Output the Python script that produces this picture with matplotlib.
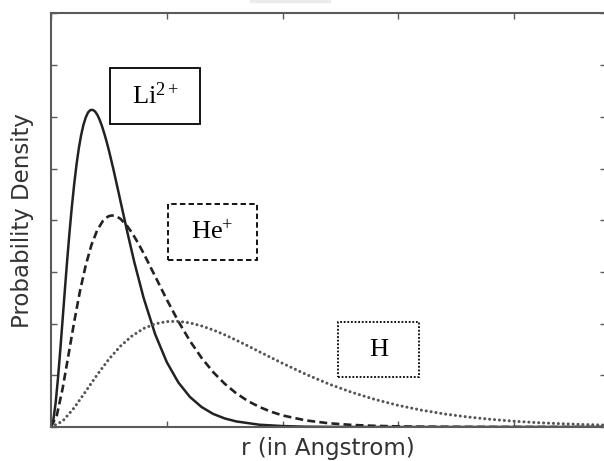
#!/usr/bin/env python3
"""Radial probability density of the 1s orbital for H, He+ and Li2+."""

import matplotlib

matplotlib.use("Agg")
import matplotlib.pyplot as plt
from matplotlib.patches import Rectangle

plt.rcParams["mathtext.fontset"] = "custom"
plt.rcParams["mathtext.rm"] = "Liberation Serif"
plt.rcParams["mathtext.it"] = "Liberation Serif:italic"

# values (r in Angstrom, density per Angstrom)
R_H = [0.0, 0.05, 0.10, 0.15, 0.20, 0.25, 0.30, 0.35, 0.40, 0.45, 0.50,
       0.55, 0.60, 0.65, 0.70, 0.75, 0.80, 0.85, 0.90, 0.95, 1.00, 1.10,
       1.20, 1.30, 1.40, 1.50, 1.60, 1.70, 1.80, 1.90, 2.00, 2.10, 2.20,
       2.30, 2.40]
P_H = [0.0, 0.056, 0.185, 0.345, 0.507, 0.656, 0.782, 0.881, 0.953, 0.998,
       1.020, 1.022, 1.007, 0.978, 0.939, 0.892, 0.840, 0.785, 0.728, 0.672,
       0.616, 0.511, 0.416, 0.335, 0.266, 0.209, 0.163, 0.126, 0.097, 0.074,
       0.056, 0.042, 0.032, 0.024, 0.018]

R_HE = [0.0, 0.025, 0.05, 0.075, 0.10, 0.125, 0.15, 0.175, 0.20, 0.225,
        0.2375, 0.25, 0.2625, 0.275, 0.2875, 0.30, 0.325, 0.35, 0.375, 0.40,
        0.45, 0.50, 0.55, 0.60, 0.65, 0.70, 0.75, 0.80, 0.85, 0.90, 0.95,
        1.00, 1.10, 1.20, 1.30, 1.40, 1.50, 1.60, 1.70, 1.80, 2.00, 2.40]
P_HE = [0.0, 0.112, 0.370, 0.690, 1.015, 1.313, 1.564, 1.763, 1.906, 1.996,
        2.023, 2.040, 2.046, 2.044, 2.031, 2.014, 1.956, 1.878, 1.784, 1.680,
        1.457, 1.233, 1.022, 0.833, 0.670, 0.532, 0.419, 0.326, 0.252, 0.194,
        0.148, 0.112, 0.064, 0.036, 0.020, 0.011, 0.006, 0.003, 0.002, 0.001,
        0.0, 0.0]

R_LI = [0.0, 0.01, 0.02, 0.03, 0.04, 0.05, 0.06, 0.07, 0.08, 0.09, 0.10,
        0.11, 0.12, 0.13, 0.14, 0.15, 0.16, 0.17, 0.18, 0.19, 0.20, 0.21,
        0.22, 0.23, 0.24, 0.25, 0.26, 0.27, 0.28, 0.29, 0.30, 0.33, 0.36,
        0.40, 0.45, 0.50, 0.55, 0.60, 0.65, 0.70, 0.75, 0.80, 0.90, 1.00,
        1.10, 1.20, 1.40, 1.60, 2.40]
P_LI = [0.0, 0.065, 0.233, 0.467, 0.742, 1.034, 1.330, 1.616, 1.885, 2.129,
        2.346, 2.535, 2.694, 2.822, 2.922, 2.994, 3.043, 3.066, 3.068, 3.053,
        3.021, 2.972, 2.912, 2.840, 2.762, 2.676, 2.583, 2.488, 2.388, 2.287,
        2.185, 1.882, 1.593, 1.249, 0.897, 0.628, 0.431, 0.291, 0.194, 0.127,
        0.083, 0.054, 0.022, 0.009, 0.003, 0.001, 0.0, 0.0, 0.0]

# label boxes: (text, x0, x1, y0, y1, border style) in data units
LABELS = [
    (r"Li$^{\mathrm{2+}}$", 0.255, 0.644, 2.930, 3.472, "-"),
    (r"He$^{\mathrm{+}}$", 0.505, 0.890, 1.615, 2.157, (0, (3, 1.8))),
    ("H", 1.240, 1.590, 0.484, 1.015, (0, (1, 1))),
]

INK = "#222222"
AXC = "#5a5a5a"

fig = plt.figure(figsize=(6.04, 4.61), dpi=100)
ax = fig.add_axes([51 / 604, 34 / 461, 554.5 / 604, 413.5 / 461])

ax.plot(R_LI, P_LI, color=INK, lw=1.8, ls="-")
ax.plot(R_HE, P_HE, color=INK, lw=1.9, ls=(0, (3.0, 1.6)))
ax.plot(R_H, P_H, color="#555555", lw=2.2, ls=(0, (0.01, 1.6)),
        dash_capstyle="round")

for txt, x0, x1, y0, y1, style in LABELS:
    ax.add_patch(Rectangle((x0, y0), x1 - x0, y1 - y0, fill=False,
                           ec="black", lw=1.3, ls=style))
    ax.text((x0 + x1) / 2, (y0 + y1) / 2, txt, ha="center", va="center",
            family="Liberation Serif", fontsize=19, color="black")

ax.set_xlim(0, 2.395)
ax.set_ylim(0, 4.0)
ax.set_xticks([0, 0.5, 1.0, 1.5, 2.0])
ax.set_yticks([0, 0.5, 1.0, 1.5, 2.0, 2.5, 3.0, 3.5, 4.0])
ax.tick_params(direction="in", length=4, width=1, color=AXC,
               top=True, right=True, labelleft=False, labelbottom=False)
for sp in ax.spines.values():
    sp.set_color(AXC)
    sp.set_linewidth(1.5)

ax.set_xlabel("r (in Angstrom)", fontsize=16.5, color="#333333")
ax.xaxis.label.set_va("center")
ax.xaxis.set_label_coords(0.5, -0.053)
ax.set_ylabel("Probability Density", fontsize=16.5, color="#333333")
ax.yaxis.label.set(va="center", ha="center")
ax.yaxis.set_label_coords(-0.052, 0.5)

# faint strip left over at the top edge of the source image
fig.patches.append(Rectangle((250 / 604, 1 - 2 / 461), 80 / 604, 2 / 461,
                             transform=fig.transFigure, color="#ececec",
                             zorder=0))

fig.savefig("out.png", dpi=100)
